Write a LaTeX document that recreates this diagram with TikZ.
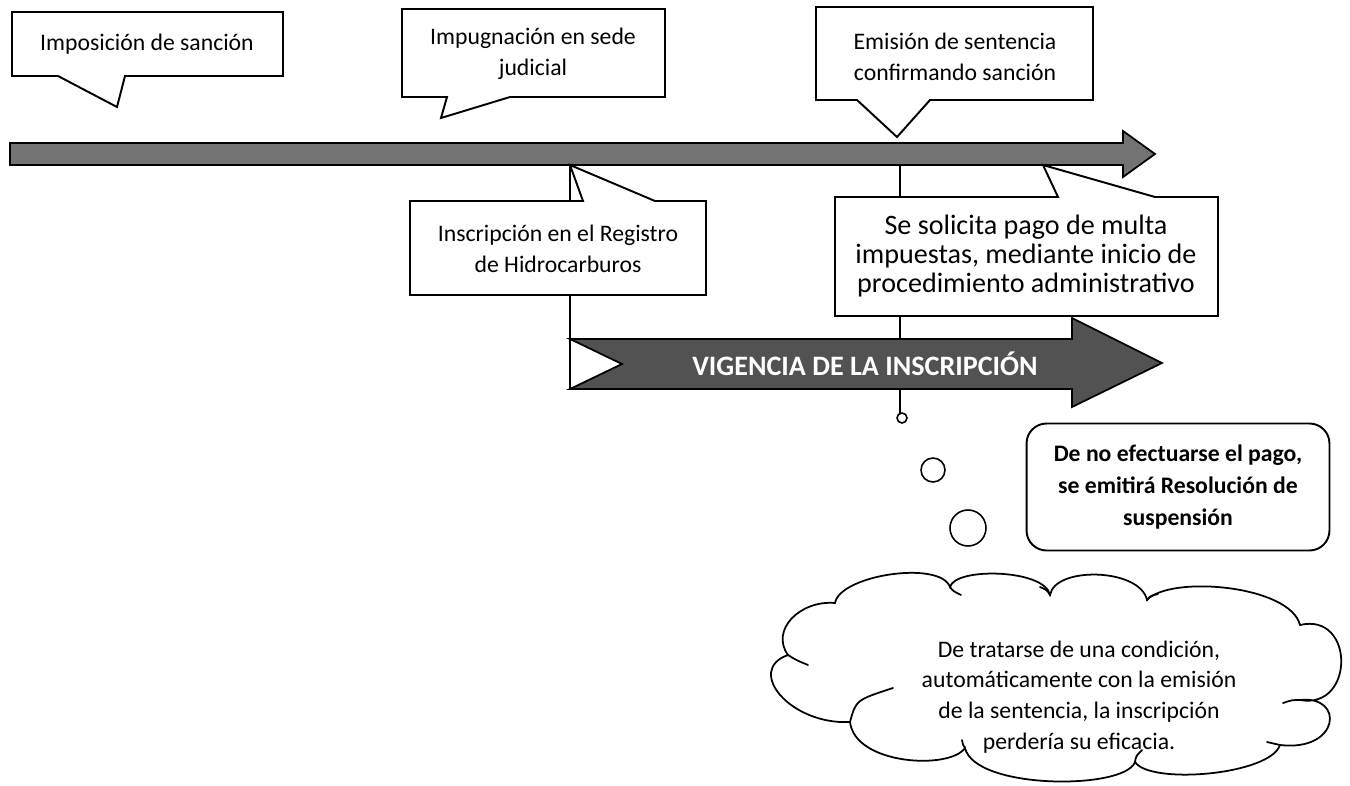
\documentclass[tikz,border=0pt]{standalone}
\usepackage{fontspec}
\setmainfont{Carlito}

\tikzset{
  globo/.style={draw, line width=1.1pt, fill=white, line join=miter},
  txt/.style={align=center, inner sep=0pt, font=\fontsize{13.5}{17.5}\selectfont},
  txtgrande/.style={align=center, inner sep=0pt, font=\fontsize{16}{16.5}\selectfont},
  flecha/.style={draw, line width=1pt, fill=black!55, line join=miter},
  guia/.style={draw, line width=0.7pt},
  burbuja/.style={circle, draw, line width=0.9pt, fill=white, inner sep=0pt},
  nube/.style={draw, line width=1pt, line cap=round},
}

\begin{document}
\begin{tikzpicture}[x=0.02cm, y=-0.02cm]
    \useasboundingbox (0,0) rectangle (1350,785);

    % lineas guia (detras de todo)
    \coordinate (g1a) at (570,154);
    \coordinate (g1b) at (570,389);
    \coordinate (g2a) at (900,154);
    \coordinate (g2b) at (900,413);
    \draw[guia] (g1a) -- (g1b);
    \draw[guia] (g2a) -- (g2b);

    % linea de tiempo
    \draw[flecha] (10,143) -- (1123,143) -- (1123,131) -- (1155,154)
        -- (1123,177) -- (1123,165) -- (10,165) -- cycle;

    % vigencia
    \draw[flecha, fill=black!68] (570,339) -- (1072,339) -- (1072,318) -- (1162,363)
        -- (1072,407) -- (1072,389) -- (570,389) -- (622,364) -- cycle;
    \node[txtgrande, text=white, font=\fontsize{16}{16}\selectfont\bfseries] (vig) at (865,364) {VIGENCIA DE LA INSCRIPCIÓN};

    % globos superiores
    \draw[globo] (12,12) -- (283,12) -- (283,76) -- (125,76) -- (117,107) -- (58,76) -- (12,76) -- cycle;
    \node[txt] (imp) at (147,44) {Imposición de sanción};

    \draw[globo] (402,9) -- (665,9) -- (665,97) -- (510,97) -- (441,118) -- (447,97) -- (402,97) -- cycle;
    \node[txt] (impug) at (533,54) {Impugnación en sede\\judicial};

    \draw[globo] (816,7) -- (1093,7) -- (1093,100) -- (930,100) -- (897,137) -- (857,100) -- (816,100) -- cycle;
    \node[txt] (emis) at (955,57) {Emisión de sentencia\\confirmando sanción};

    % globos inferiores
    \draw[globo] (410,201) -- (583,201) -- (570,165) -- (655,201) -- (706,201) -- (706,295) -- (410,295) -- cycle;
    \node[txt] (insc) at (558,249) {Inscripción en el Registro\\de Hidrocarburos};

    \draw[globo] (835,197) -- (1058,197) -- (1043,165) -- (1155,197) -- (1218,197) -- (1218,316) -- (835,316) -- cycle;
    \node[txtgrande] (pago) at (1026,256) {Se solicita pago de multa\\impuestas, mediante inicio de\\procedimiento administrativo};

    % suspension
    \node[draw, line width=1.1pt, rounded corners=0.4cm, minimum width=6.06cm, minimum height=2.54cm,
          txt, font=\fontsize{13.5}{18}\selectfont\bfseries] (susp) at (1178,487)
          {De no efectuarse el pago,\\se emitirá Resolución de\\suspensión};

    % burbujas
    \node[burbuja, minimum size=0.2cm] (b1) at (902,418) {};
    \node[burbuja, minimum size=0.48cm] (b2) at (933,470) {};
    \node[burbuja, minimum size=0.72cm] (b3) at (968,528) {};

    % nube
    \draw[nube] (835,603) .. controls (840,575) and (940,560) .. (950,587)
        .. controls (955,567) and (1045,569) .. (1050,595)
        .. controls (1055,566) and (1140,568) .. (1147,600)
        .. controls (1170,575) and (1290,585) .. (1300,625)
        .. controls (1355,612) and (1355,710) .. (1300,700)
        .. controls (1345,695) and (1340,752) .. (1280,745)
        .. controls (1270,775) and (1150,785) .. (1135,762)
        .. controls (1125,790) and (975,790) .. (965,748)
        .. controls (950,770) and (855,765) .. (850,722)
        .. controls (790,725) and (745,670) .. (788,655)
        .. controls (770,630) and (800,600) .. (835,603) -- cycle;
    % colas interiores de la nube
    \draw[nube] (950,587) .. controls (953,591) .. (961,595);
    \draw[nube] (1050,595) .. controls (1047,590) .. (1040,587);
    \draw[nube] (1147,600) .. controls (1150,596) .. (1158,594);
    \draw[nube] (1300,700) .. controls (1292,700) .. (1283,703);
    \draw[nube] (1280,745) .. controls (1274,743) .. (1267,742);
    \draw[nube] (1135,762) .. controls (1136,756) .. (1142,750);
    \draw[nube] (965,748) .. controls (963,745) .. (962,740);
    \draw[nube] (850,722) .. controls (856,700) .. (893,688);
    \draw[nube] (788,655) .. controls (796,660) .. (808,665);

    \node[txt] (cond) at (1079,697) {De tratarse de una condición,\\automáticamente con la emisión\\de la sentencia, la inscripción\\perdería su eficacia.};
\end{tikzpicture}
\end{document}
